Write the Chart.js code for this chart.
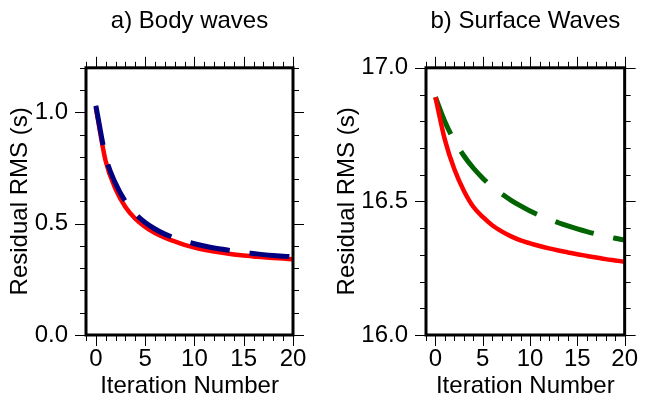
<!DOCTYPE html>
<html lang="en">
<head>
  <meta charset="UTF-8">
  <title>Residual RMS vs iteration</title>
  <script src="https://cdn.jsdelivr.net/npm/chart.js"></script>
  <style>
    html, body { margin: 0; padding: 0; background: #fff; }
    .panel { position: absolute; top: 0; width: 324px; height: 401px; }
    #left { left: 0; }
    #right { left: 324px; }
  </style>
</head>
<body>
  <div class="panel" id="left"><canvas id="bodyChart" width="324" height="401"></canvas></div>
  <div class="panel" id="right"><canvas id="surfChart" width="324" height="401"></canvas></div>

  <script>
    // values, one per iteration
    const iterations = [0, 1, 2, 3, 4, 5, 6, 7, 8, 9, 10, 11, 12, 13, 14, 15, 16, 17, 18, 19, 20];
    const bodyRed  = [1.02, 0.78, 0.655, 0.575, 0.522, 0.485, 0.458, 0.437, 0.42, 0.405, 0.393, 0.383, 0.375, 0.368, 0.362, 0.357, 0.353, 0.349, 0.346, 0.343, 0.34];
    const bodyBlue = [1.03, 0.80, 0.68, 0.60, 0.545, 0.505, 0.476, 0.453, 0.436, 0.422, 0.41, 0.40, 0.391, 0.384, 0.377, 0.371, 0.366, 0.361, 0.357, 0.354, 0.351];
    const surfRed   = [16.89, 16.73, 16.62, 16.54, 16.48, 16.442, 16.411, 16.388, 16.369, 16.354, 16.343, 16.333, 16.324, 16.316, 16.309, 16.302, 16.296, 16.29, 16.284, 16.279, 16.274];
    const surfGreen = [16.89, 16.798, 16.727, 16.671, 16.625, 16.587, 16.554, 16.528, 16.504, 16.483, 16.464, 16.448, 16.434, 16.42, 16.408, 16.397, 16.387, 16.378, 16.37, 16.362, 16.355];

    const xTicks = [0, 5, 10, 15, 20];
    const bodyTicks = [0.0, 0.5, 1.0];
    const surfTicks = [16.0, 16.5, 17.0];

    const font = { family: "'Liberation Sans', Arial, sans-serif", size: 24 };

    function pts(ys) {
      return iterations.map((x, i) => ({ x: x, y: ys[i] }));
    }

    // frame plus outward ticks on all four sides (GMT style)
    const framePlugin = {
      id: 'frame',
      afterDatasetsDraw(chart) {
        const { ctx, chartArea: a, scales } = chart;
        const xs = scales.x, ys = scales.y;
        const yStep = chart.options.minorStep;
        ctx.save();
        ctx.strokeStyle = '#000';
        ctx.lineWidth = 1;
        ctx.beginPath();
        for (let v = -1; v <= 20; v++) {
          const len = v % 5 === 0 ? 11 : 6;
          const px = Math.round(xs.getPixelForValue(v)) + 0.5;
          ctx.moveTo(px, a.bottom); ctx.lineTo(px, a.bottom + len);
          ctx.moveTo(px, a.top); ctx.lineTo(px, a.top - len);
        }
        const n = Math.round((ys.max - ys.min) / yStep);
        for (let k = 0; k <= n; k++) {
          const len = k % 5 === 0 ? 11 : 6;
          const py = Math.round(ys.getPixelForValue(ys.min + k * yStep)) + 0.5;
          ctx.moveTo(a.left, py); ctx.lineTo(a.left - len, py);
          ctx.moveTo(a.right, py); ctx.lineTo(a.right + len, py);
        }
        ctx.stroke();
        ctx.lineWidth = 3;
        ctx.strokeRect(a.left, a.top, a.right - a.left, a.bottom - a.top);
        ctx.restore();
      }
    };

    function makeChart(id, title, sets, yMin, yMax, yTicks, yWidth, padRight, yTitlePad) {
      return new Chart(document.getElementById(id), {
        type: 'line',
        data: { datasets: sets },
        plugins: [framePlugin],
        options: {
          responsive: false,
          animation: false,
          minorStep: 0.1,
          layout: { padding: { left: 0, right: padRight, top: 0, bottom: 0 } },
          plugins: {
            legend: { display: false },
            tooltip: { enabled: false },
            title: {
              display: true,
              text: title,
              color: '#000',
              fullSize: false,
              font: { family: font.family, size: 24, weight: 'normal' },
              padding: { top: 7, bottom: 32 }
            }
          },
          elements: { point: { radius: 0 } },
          scales: {
            x: {
              type: 'linear',
              min: -1, max: 20,
              grid: { display: false, drawTicks: false },
              border: { display: false },
              afterBuildTicks: s => { s.ticks = xTicks.map(v => ({ value: v })); },
              afterFit: s => { s.height = 66; },
              ticks: { color: '#000', font: font, padding: 10, maxRotation: 0 },
              title: { display: true, text: 'Iteration Number', color: '#000', font: font, padding: { top: 0, bottom: 0 } }
            },
            y: {
              min: yMin, max: yMax,
              grid: { display: false, drawTicks: false },
              border: { display: false },
              afterBuildTicks: s => { s.ticks = yTicks.map(v => ({ value: v })); },
              afterFit: s => { s.width = yWidth; },
              ticks: { color: '#000', font: font, padding: 18, callback: v => v.toFixed(1) },
              title: { display: true, text: 'Residual RMS (s)', color: '#000', font: font, padding: { top: yTitlePad, bottom: 0 } }
            }
          }
        }
      });
    }

    makeChart('bodyChart', 'a) Body waves', [
      { data: pts(bodyBlue), borderColor: '#000080', borderWidth: 5, borderDash: [40, 20], cubicInterpolationMode: 'monotone' },
      { data: pts(bodyRed), borderColor: '#ff0000', borderWidth: 4.5, cubicInterpolationMode: 'monotone' }
    ], 0, 1.2, bodyTicks, 86, 31, 6);

    makeChart('surfChart', 'b) Surface Waves', [
      { data: pts(surfRed), borderColor: '#ff0000', borderWidth: 4.5, cubicInterpolationMode: 'monotone' },
      { data: pts(surfGreen), borderColor: '#006400', borderWidth: 5, borderDash: [40, 20], cubicInterpolationMode: 'monotone' }
    ], 16.0, 17.0, surfTicks, 102, 15, 9);
  </script>
</body>
</html>
